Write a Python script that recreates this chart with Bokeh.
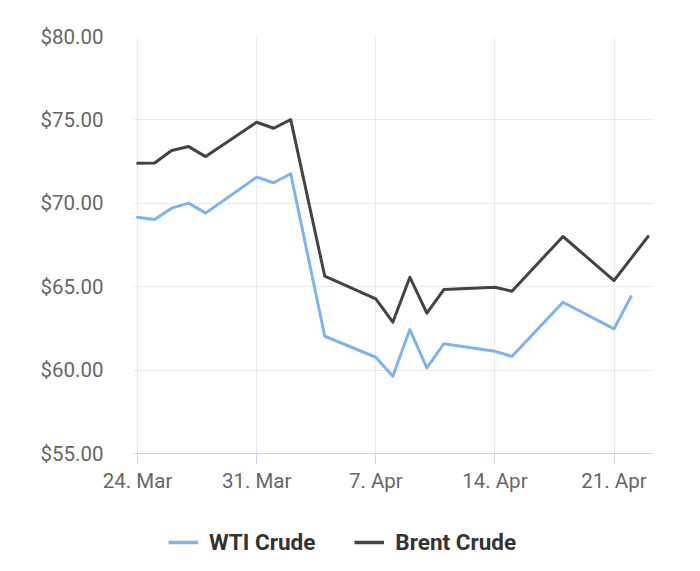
import pandas as pd
from bokeh.plotting import figure
from bokeh.layouts import column
from bokeh.models import (Range1d, FixedTicker, NumeralTickFormatter, Legend,
                          LegendItem, ColumnDataSource)
from bokeh.embed import file_html
from bokeh.resources import INLINE

# ---- data ----
wti_dates = ["2025-03-24", "2025-03-25", "2025-03-26", "2025-03-27", "2025-03-28",
             "2025-03-31", "2025-04-01", "2025-04-02", "2025-04-04", "2025-04-07",
             "2025-04-08", "2025-04-09", "2025-04-10", "2025-04-11", "2025-04-14",
             "2025-04-15", "2025-04-18", "2025-04-21", "2025-04-22"]
wti_values = [69.17, 69.03, 69.71, 70.01, 69.41, 71.57, 71.23, 71.77, 62.03, 60.77,
              59.63, 62.43, 60.14, 61.58, 61.13, 60.82, 64.07, 62.47, 64.41]

brent_dates = ["2025-03-24", "2025-03-25", "2025-03-26", "2025-03-27", "2025-03-28",
               "2025-03-31", "2025-04-01", "2025-04-02", "2025-04-04", "2025-04-07",
               "2025-04-08", "2025-04-09", "2025-04-10", "2025-04-11", "2025-04-14",
               "2025-04-15", "2025-04-18", "2025-04-21", "2025-04-23"]
brent_values = [72.40, 72.42, 73.17, 73.40, 72.80, 74.86, 74.50, 75.02, 65.63, 64.27,
                62.87, 65.57, 63.41, 64.83, 64.97, 64.73, 68.01, 65.37, 68.01]

tick_dates = ["2025-03-24", "2025-03-31", "2025-04-07", "2025-04-14", "2025-04-21"]
tick_labels = ["24. Mar", "31. Mar", "7. Apr", "14. Apr", "21. Apr"]
y_ticks = [55, 60, 65, 70, 75, 80]

series_names = ["WTI Crude", "Brent Crude"]
series_colors = ["#7cb5ec", "#434348"]

# ---- helpers ----
def to_ms(d):
    return pd.Timestamp(d).value / 1e6

DAY = 86400000.0
x0 = to_ms("2025-03-24") - 0.24 * DAY
x1 = to_ms("2025-03-24") + 30.32 * DAY

FONT = "Roboto"

src_w = ColumnDataSource(dict(x=[pd.Timestamp(d) for d in wti_dates], y=wti_values))
src_b = ColumnDataSource(dict(x=[pd.Timestamp(d) for d in brent_dates], y=brent_values))

# ---- main chart ----
p = figure(width=684, height=510, x_axis_type="datetime",
           x_range=Range1d(x0, x1), y_range=Range1d(55, 80),
           output_backend="svg", toolbar_location=None,
           min_border_left=133, min_border_right=31,
           min_border_top=36, min_border_bottom=57)
p.outline_line_color = None
p.background_fill_color = "white"
p.border_fill_color = "white"

p.line("x", "y", source=src_w, line_color=series_colors[0], line_width=3,
       line_join="round", line_cap="round")
p.line("x", "y", source=src_b, line_color=series_colors[1], line_width=3,
       line_join="round", line_cap="round")

tick_ms = [to_ms(d) for d in tick_dates]
xa = p.xaxis[0]
xa.ticker = FixedTicker(ticks=tick_ms)
xa.major_label_overrides = {t: l for t, l in zip(tick_ms, tick_labels)}
xa.axis_line_color = "#ccd6eb"
xa.axis_line_width = 1
xa.major_tick_line_color = "#ccd6eb"
xa.major_tick_in = 0
xa.major_tick_out = 10
xa.minor_tick_line_color = None
xa.major_label_text_font = FONT
xa.major_label_text_font_size = "20.5px"
xa.major_label_text_color = "#666666"
xa.major_label_standoff = 5

ya = p.yaxis[0]
ya.ticker = FixedTicker(ticks=y_ticks)
ya.formatter = NumeralTickFormatter(format="$0.00")
ya.axis_line_color = None
ya.major_tick_line_color = None
ya.minor_tick_line_color = None
ya.major_tick_out = 0
ya.major_tick_in = 0
ya.major_label_standoff = 30
ya.major_label_text_font = FONT
ya.major_label_text_font_size = "20.5px"
ya.major_label_text_color = "#666666"

p.xgrid.grid_line_color = "#ebebeb"
p.ygrid.grid_line_color = "#ebebeb"
p.xgrid.ticker = FixedTicker(ticks=tick_ms)
p.ygrid.ticker = FixedTicker(ticks=y_ticks)

# ---- legend strip (series drawn out of its view, only the legend shows) ----
lp = figure(width=684, height=60, x_range=Range1d(x0, x1), y_range=Range1d(0, 1),
            output_backend="svg", toolbar_location=None,
            x_axis_location=None, y_axis_location=None,
            min_border_left=0, min_border_right=0,
            min_border_top=0, min_border_bottom=0)
lp.outline_line_color = None
lp.xgrid.visible = False
lp.ygrid.visible = False
lr_w = lp.line("x", "y", source=src_w, line_color=series_colors[0], line_width=3.5)
lr_b = lp.line("x", "y", source=src_b, line_color=series_colors[1], line_width=3.5)

legend = Legend(items=[LegendItem(label=series_names[0], renderers=[lr_w]),
                       LegendItem(label=series_names[1], renderers=[lr_b])],
                orientation="horizontal", location=(35, 15))
legend.label_text_font = FONT
legend.label_text_font_style = "bold"
legend.label_text_font_size = "22.5px"
legend.label_text_color = "#333333"
legend.glyph_width = 30
legend.glyph_height = 20
legend.label_standoff = 11
legend.spacing = 39
legend.border_line_color = None
legend.background_fill_alpha = 0
legend.margin = 0
legend.padding = 0
lp.add_layout(legend)

open("out.html", "w").write(file_html(column(p, lp, spacing=0), INLINE))
